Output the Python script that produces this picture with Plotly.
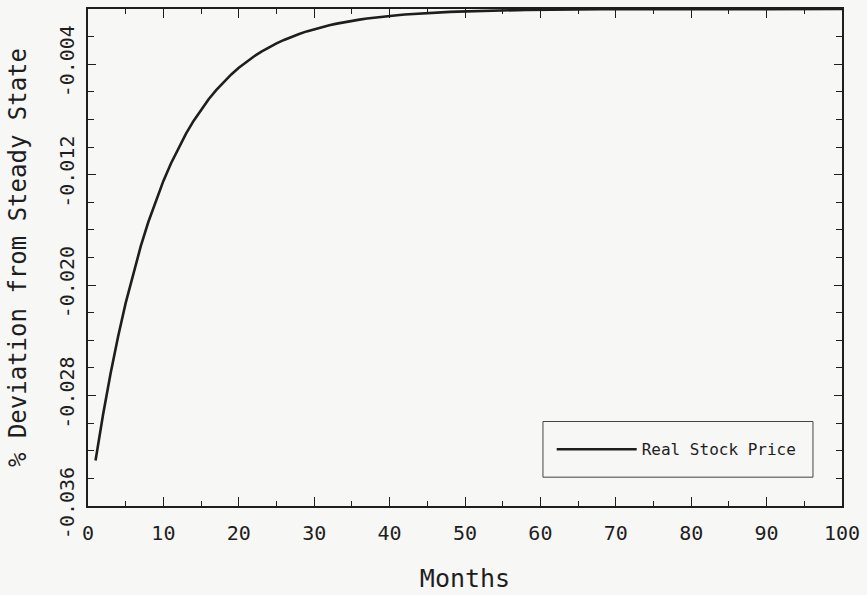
import plotly.graph_objects as go

# ---- data ----
months = list(range(1, 101))
real_stock_price = [
    -0.03270, -0.02937, -0.02639, -0.02370, -0.02129, -0.01913, -0.01718, -0.01543, -0.01386, -0.01245,
    -0.01119, -0.01005, -0.00903, -0.00811, -0.00728, -0.00654, -0.00588, -0.00528, -0.00474, -0.00426,
    -0.00383, -0.00344, -0.00309, -0.00277, -0.00249, -0.00224, -0.00201, -0.00181, -0.00162, -0.00146,
    -0.00131, -0.00118, -0.00106, -0.00095, -0.00085, -0.00077, -0.00069, -0.00062, -0.00056, -0.00050,
    -0.00045, -0.00040, -0.00036, -0.00033, -0.00029, -0.00026, -0.00024, -0.00021, -0.00019, -0.00017,
    -0.00015, -0.00014, -0.00012, -0.00011, -0.00010, -0.00009, -0.00008, -0.00007, -0.00006, -0.00006,
    -0.00005, -0.00005, -0.00004, -0.00004, -0.00003, -0.00003, -0.00003, -0.00002, -0.00002, -0.00002,
    -0.00002, -0.00001, -0.00001, -0.00001, -0.00001, -0.00001, -0.00001, -0.00001, -0.00001, -0.00001,
    0.0, 0.0, 0.0, 0.0, 0.0, 0.0, 0.0, 0.0, 0.0, 0.0,
    0.0, 0.0, 0.0, 0.0, 0.0, 0.0, 0.0, 0.0, 0.0, 0.0,
]
series_name = "Real Stock Price"

x_tick_vals = [0, 10, 20, 30, 40, 50, 60, 70, 80, 90, 100]
x_tick_text = ["0", "10", "20", "30", "40", "50", "60", "70", "80", "90", "100"]
y_tick_vals = [-0.036, -0.028, -0.020, -0.012, -0.004]
y_tick_text = ["-0.036", "-0.028", "-0.020", "-0.012", "-0.004"]

x_title = "Months"
y_title = "% Deviation from Steady State"

# ---- styling ----
INK = "#1e1e1e"
BG = "#f7f7f5"
FONT = "DejaVu Sans Mono, monospace"

fig = go.Figure()
fig.add_trace(go.Scatter(
    x=months, y=real_stock_price, mode="lines", name=series_name,
    line=dict(color=INK, width=2.6),
))

fig.update_layout(
    width=867, height=595,
    margin=dict(l=88, r=25, t=7, b=89),
    paper_bgcolor=BG, plot_bgcolor=BG,
    font=dict(family=FONT, color=INK),
    showlegend=True,
    legend=dict(
        x=0.615, xanchor="left", y=0.114, yanchor="middle",
        bgcolor="rgba(0,0,0,0)", borderwidth=0,
        font=dict(size=16, family=FONT, color=INK),
        itemwidth=80,
    ),
    shapes=[dict(
        type="rect", xref="paper", yref="paper",
        x0=0.6034, x1=0.9615, y0=0.058, y1=0.170,
        line=dict(color="#444", width=1), fillcolor=BG, layer="above",
    )],
)

fig.update_xaxes(
    range=[0, 100],
    tickmode="array", tickvals=x_tick_vals, ticktext=x_tick_text,
    ticks="inside", ticklen=9, tickwidth=1.3, tickcolor=INK,
    minor=dict(dtick=5, tick0=0, ticks="inside", ticklen=5, tickwidth=1.3, tickcolor=INK),
    showline=True, linewidth=2, linecolor=INK, mirror="ticks",
    showgrid=False, zeroline=False,
    tickfont=dict(size=20, family=FONT, color=INK),
    ticklabelstandoff=8,
    title=dict(text=x_title, font=dict(size=25, family=FONT, color=INK), standoff=25),
)

fig.update_yaxes(
    range=[-0.036, 0],
    tickmode="array", tickvals=y_tick_vals, ticktext=y_tick_text,
    tickangle=-90,
    ticks="inside", ticklen=8, tickwidth=1.3, tickcolor=INK,
    minor=dict(dtick=0.002, tick0=-0.036, ticks="inside", ticklen=6, tickwidth=1.3, tickcolor=INK),
    showline=True, linewidth=2, linecolor=INK, mirror="ticks",
    showgrid=False, zeroline=False,
    tickfont=dict(size=20, family=FONT, color=INK),
    ticklabelstandoff=4,
    title=dict(text=y_title, font=dict(size=24, family=FONT, color=INK), standoff=22),
)

fig.write_html("out.html")
